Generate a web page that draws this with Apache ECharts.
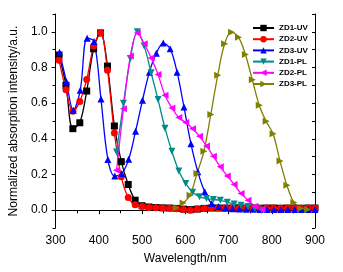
<!DOCTYPE html>
<html>
<head>
<meta charset="utf-8">
<script src="https://cdn.jsdelivr.net/npm/echarts@6/dist/echarts.min.js"></script>
<style>
  html, body { margin: 0; padding: 0; background: #fff; }
  #chart { width: 343px; height: 272px; }
</style>
</head>
<body>
<div id="chart"></div>
<script>
// wavelengths (nm) and normalized intensities
const zd1uvX = [308, 324, 340, 356, 372, 388, 404, 420, 436, 452, 468, 484, 500, 516, 532, 548, 564, 580, 596, 612, 628, 644, 660, 676, 692, 708, 724, 740, 756, 772, 788, 804, 820, 836, 852, 868, 884, 900];
const zd1uvY = [0.87, 0.70, 0.457, 0.49, 0.668, 0.905, 0.994, 0.808, 0.472, 0.272, 0.144, 0.056, 0.025, 0.018, 0.015, 0.013, 0.012, 0.01, 0.006, 0.003, 0.006, 0.01, 0.012, 0.012, 0.012, 0.012, 0.011, 0.012, 0.012, 0.011, 0.012, 0.012, 0.011, 0.012, 0.012, 0.011, 0.012, 0.012];

const zd2uvX = [308, 324, 340, 356, 372, 388, 404, 420, 436, 452, 468, 484, 500, 516, 532, 548, 564, 580, 596, 612, 628, 644, 660, 676, 692, 708, 724, 740, 756, 772, 788, 804, 820, 836, 852, 868, 884, 900];
const zd2uvY = [0.84, 0.675, 0.554, 0.61, 0.733, 0.92, 0.994, 0.785, 0.433, 0.187, 0.071, 0.03, 0.02, 0.015, 0.013, 0.012, 0.011, 0.008, 0.004, 0.0, 0.006, 0.01, 0.012, 0.012, 0.012, 0.012, 0.011, 0.012, 0.012, 0.011, 0.012, 0.012, 0.011, 0.012, 0.012, 0.011, 0.012, 0.012];

const zd3uvX = [309, 325, 341, 357, 373, 389, 405, 421, 437, 453, 469, 485, 501, 517, 533, 549, 565, 581, 597, 613, 629, 645, 661, 677, 693, 709, 725, 741, 757, 773, 789, 805, 821, 837, 853, 869, 885, 900];
const zd3uvY = [0.886, 0.722, 0.56, 0.672, 0.964, 0.946, 0.623, 0.284, 0.192, 0.205, 0.285, 0.442, 0.616, 0.774, 0.88, 0.937, 0.905, 0.774, 0.578, 0.373, 0.215, 0.103, 0.037, 0.02, 0.012, 0.008, 0.006, 0.005, 0.005, 0.004, 0.004, 0.004, 0.004, 0.004, 0.004, 0.004, 0.004, 0.004];

const zd1plX = [441, 457, 473, 489, 505, 521, 537, 553, 569, 585, 601, 617, 633, 649, 665, 681, 697, 713, 729, 745, 761, 777];
const zd1plY = [0.326, 0.60, 0.85, 1.0, 0.92, 0.77, 0.62, 0.46, 0.33, 0.22, 0.15, 0.10, 0.075, 0.065, 0.06, 0.055, 0.045, 0.035, 0.028, 0.02, 0.01, 0.0];

const zd2plX = [441, 457, 473, 489, 505, 521, 537, 553, 569, 585, 601, 617, 633, 649, 665, 681, 697, 713, 729, 745, 761, 777];
const zd2plY = [0.224, 0.569, 0.864, 0.994, 0.933, 0.853, 0.761, 0.644, 0.573, 0.519, 0.491, 0.457, 0.414, 0.36, 0.302, 0.243, 0.192, 0.144, 0.093, 0.056, 0.022, 0.004];

const zd3plX = [579, 595, 611, 627, 643, 659, 675, 691, 707, 723, 739, 755, 771, 787, 803, 819, 835, 851, 867, 883];
const zd3plY = [0.013, 0.04, 0.084, 0.205, 0.33, 0.537, 0.756, 0.933, 0.998, 0.97, 0.873, 0.731, 0.588, 0.498, 0.429, 0.276, 0.14, 0.043, 0.009, 0.004];

const xTicks = [300, 900, 100];
const yLabels = [0, 0.2, 0.4, 0.6, 0.8, 1.0];
const yMinor = [-0.1, 0.1, 0.3, 0.5, 0.7, 0.9, 1.1];

const pairs = (xs, ys) => xs.map((x, i) => [x, ys[i]]);
const font = 'Liberation Sans, Arial, sans-serif';

const chart = echarts.init(document.getElementById('chart'), null, { renderer: 'canvas' });

function line(name, xs, ys, color, symbol, rotate) {
  return {
    name, type: 'line', xAxisIndex: 0, yAxisIndex: 0,
    data: pairs(xs, ys),
    smooth: 0.35,
    symbol, symbolSize: 7, symbolRotate: rotate || 0,
    lineStyle: { color, width: 1.3 },
    itemStyle: { color, borderWidth: 0 },
    animation: false
  };
}

chart.setOption({
  animation: false,
  grid: { left: 53, right: 28, top: 14, bottom: 44 },
  legend: {
    orient: 'vertical', left: 247, top: 19,
    itemWidth: 21, itemHeight: 8, itemGap: 3.2,
    textStyle: { fontFamily: font, fontSize: 8, fontWeight: 'bold', color: '#000' },
    data: ['ZD1-UV', 'ZD2-UV', 'ZD3-UV', 'ZD1-PL', 'ZD2-PL', 'ZD3-PL']
  },
  xAxis: [
    {
      type: 'value', min: xTicks[0], max: xTicks[1], interval: xTicks[2],
      name: 'Wavelength/nm', nameLocation: 'middle', nameGap: 25,
      nameTextStyle: { fontFamily: font, fontSize: 12, color: '#000' },
      axisLine: { lineStyle: { color: '#000', width: 1 } },
      axisTick: { length: 4, lineStyle: { color: '#000' } },
      minorTick: { show: true, splitNumber: 2, length: 3, lineStyle: { color: '#000' } },
      axisLabel: { fontFamily: font, fontSize: 12, color: '#000', margin: 7 },
      splitLine: { show: false }
    },
    {
      type: 'value', position: 'top', min: xTicks[0], max: xTicks[1], interval: 50,
      axisLine: { lineStyle: { color: '#000', width: 1 } },
      axisTick: { inside: true, length: 3, lineStyle: { color: '#000' } },
      axisLabel: { show: false }, splitLine: { show: false }
    }
  ],
  yAxis: [
    {
      type: 'value', min: -0.1, max: 1.1,
      name: 'Normalized absorption intensity/a.u.', nameLocation: 'middle', nameGap: 33,
      nameTextStyle: { fontFamily: font, fontSize: 12, color: '#000' },
      axisLine: { show: true, lineStyle: { color: '#000', width: 1 } },
      axisTick: { show: true, customValues: yLabels, length: 4, lineStyle: { color: '#000' } },
      axisLabel: { customValues: yLabels, fontFamily: font, fontSize: 12, color: '#000', margin: 8,
        formatter: v => v.toFixed(1) },
      splitLine: { show: false }
    },
    {
      type: 'value', min: -0.1, max: 1.1, position: 'left',
      axisLine: { show: false },
      axisTick: { show: true, customValues: yMinor, length: 3, lineStyle: { color: '#000' } },
      axisLabel: { show: false }, splitLine: { show: false }
    },
    {
      type: 'value', min: -0.1, max: 1.1, position: 'right',
      axisLine: { show: true, lineStyle: { color: '#000', width: 1 } },
      axisTick: { show: true, inside: true, customValues: yLabels.concat(yMinor), length: 3, lineStyle: { color: '#000' } },
      axisLabel: { show: false }, splitLine: { show: false }
    }
  ],
  series: [
    line('ZD1-UV', zd1uvX, zd1uvY, '#000000', 'rect'),
    line('ZD2-UV', zd2uvX, zd2uvY, '#ff0000', 'circle'),
    line('ZD3-UV', zd3uvX, zd3uvY, '#0000ff', 'triangle'),
    line('ZD1-PL', zd1plX, zd1plY, '#008b8b', 'triangle', 180),
    line('ZD2-PL', zd2plX, zd2plY, '#ff00ff', 'triangle', 90),
    line('ZD3-PL', zd3plX, zd3plY, '#808000', 'triangle', -90)
  ]
});
</script>
</body>
</html>
